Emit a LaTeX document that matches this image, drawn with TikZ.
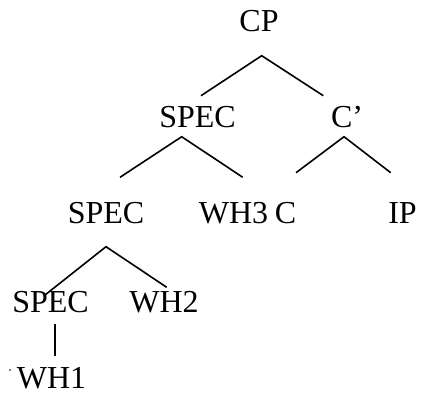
\documentclass[tikz,border=0pt]{standalone}
\usepackage{fontspec}
\setmainfont{Liberation Serif}
\begin{document}
\begin{tikzpicture}[x=1pt,y=-1pt,
  lbl/.style={anchor=base,inner sep=0pt,font=\fontsize{32}{32}\selectfont},
  br/.style={line width=1.6pt}]
\useasboundingbox (0,0) rectangle (423,394);
\node[lbl] (cp) at (259,31) {CP};
\node[lbl] (spec2) at (197.5,127) {SPEC};
\node[lbl] (cbar) at (347,127) {C’};
\node[lbl] (spec3) at (106,223) {SPEC};
\node[lbl] (wh3) at (233.5,223) {WH3};
\node[lbl] (c) at (285.5,223) {C};
\node[lbl] (ip) at (402.5,223) {IP};
\node[lbl] (spec4) at (50.5,312) {SPEC};
\node[lbl] (wh2) at (164,312) {WH2};
\node[lbl] (wh1) at (51.5,388) {WH1};
% branch points
\coordinate (cpA) at (261.7,55.7);
\coordinate (cpL) at (201,95.7);
\coordinate (cpR) at (323.3,95.7);
\coordinate (s2A) at (181.7,136.7);
\coordinate (s2L) at (120,177.3);
\coordinate (s2R) at (242.7,177.3);
\coordinate (cbA) at (344,136.7);
\coordinate (cbL) at (296,172.7);
\coordinate (cbR) at (390.7,172.7);
\coordinate (s3A) at (106,246.7);
\coordinate (s3L) at (45,295);
\coordinate (s3R) at (166.7,287.3);
\coordinate (s4T) at (55,324);
\coordinate (s4B) at (55,356);
\draw[br] (cpL) -- (cpA) -- (cpR);
\draw[br] (s2L) -- (s2A) -- (s2R);
\draw[br] (cbL) -- (cbA) -- (cbR);
\draw[br] (s3L) -- (s3A) -- (s3R);
\draw[line width=1.2pt] (s4T) -- (s4B);
\fill (10,370) circle (0.8);
\end{tikzpicture}
\end{document}
